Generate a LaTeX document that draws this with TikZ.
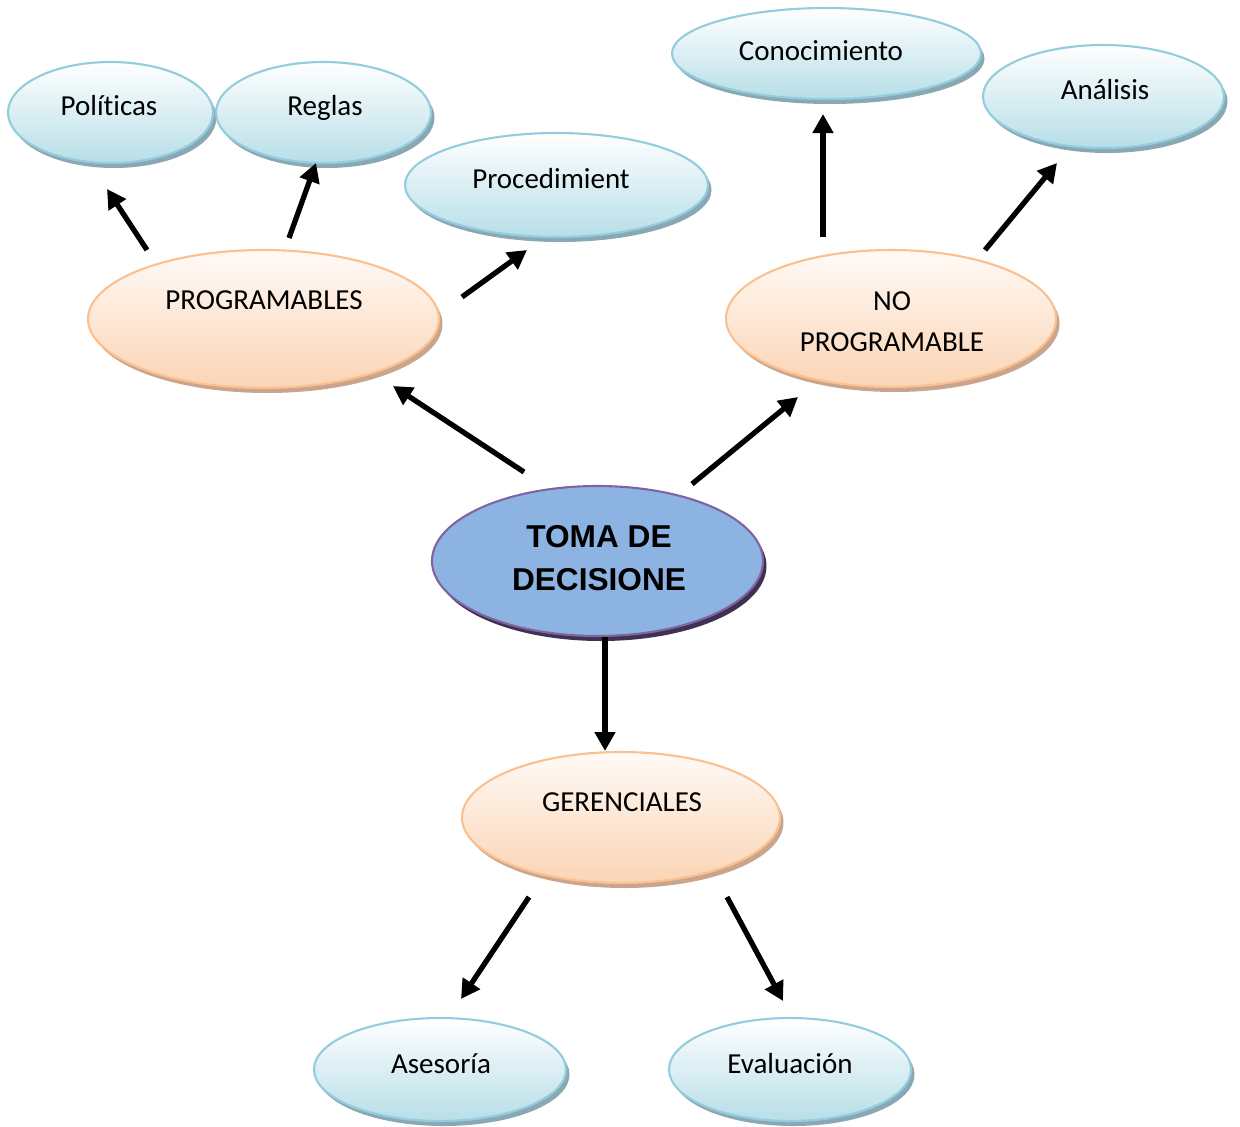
\documentclass[tikz,border=0pt]{standalone}
\usepackage{fontspec}
\setmainfont{Carlito}[Ligatures=NoCommon]
\newfontfamily\headfont{Liberation Sans}
\usetikzlibrary{shapes.geometric,shadows,arrows.meta}

\definecolor{bluebord}{HTML}{93CDDD}
\definecolor{bluebot}{HTML}{B7DEE8}
\definecolor{blueshad}{HTML}{8AA8B3}
\definecolor{orabord}{HTML}{FAC090}
\definecolor{orabot}{HTML}{FBD4B4}
\definecolor{oratop}{HTML}{FFFAF7}
\definecolor{orashad}{HTML}{C8A58C}
\definecolor{mainfill}{HTML}{8DB3E2}
\definecolor{mainbord}{HTML}{8064A2}
\definecolor{mainshad}{HTML}{3F3151}

\tikzset{
  oval/.style 2 args={ellipse, inner sep=0pt, minimum width=#1*0.02cm, minimum height=#2*0.02cm},
  leaf/.style={line width=1.2pt, draw=bluebord, top color=white, bottom color=bluebot,
    general shadow={fill=blueshad, shadow xshift=0.07cm, shadow yshift=-0.1cm}},
  branch/.style={line width=1.2pt, draw=orabord, top color=oratop, bottom color=orabot,
    general shadow={fill=orashad, shadow xshift=0.07cm, shadow yshift=-0.1cm}},
  root/.style={line width=1.2pt, draw=mainbord, fill=mainfill,
    general shadow={fill=mainshad, shadow xshift=0.07cm, shadow yshift=-0.1cm}},
  lbl/.style={font=\fontsize{16.5}{20}\selectfont, inner sep=0pt, anchor=base},
  rootlbl/.style={font=\headfont\bfseries\fontsize{18}{24.5}\selectfont, inner sep=0pt, anchor=base},
  link/.style={line width=3pt, -{Triangle[length=0.38cm,width=0.4cm]}},
}

\begin{document}
\begin{tikzpicture}[x=0.02cm, y=-0.02cm]
\useasboundingbox (0,0) rectangle (1240,1126);

% ellipses
\node[leaf, oval={205}{101}]   (pol)  at (110.5,112.5) {};
\node[leaf, oval={215}{101}]   (reg)  at (323.5,112.5) {};
\node[leaf, oval={303}{104}]   (proc) at (556.5,185) {};
\node[leaf, oval={309}{91}]    (con)  at (826.5,53.5) {};
\node[leaf, oval={241}{103}]   (ana)  at (1103.5,96.5) {};
\node[branch, oval={351}{138}] (prog) at (263.5,319) {};
\node[branch, oval={330}{137}] (nop)  at (891,318.5) {};
\node[root, oval={331}{150}]   (toma) at (597.5,561) {};
\node[branch, oval={318}{131}] (ger)  at (621,817.5) {};
\node[leaf, oval={252}{103}]   (ase)  at (440,1069.5) {};
\node[leaf, oval={242}{103}]   (eva)  at (790,1069.5) {};

% labels, placed on their baselines
\node[lbl] (tpol)  at (109,115) {Políticas};
\node[lbl] (treg)  at (325,115) {Reglas};
\node[lbl] (tproc) at (551,188) {Procedimient};
\node[lbl] (tcon)  at (821,60)  {Conocimiento};
\node[lbl] (tana)  at (1105,99) {Análisis};
\node[lbl] (tprog) at (264,309) {PROGRAMABLES};
\node[lbl] (tno1)  at (892,310) {NO};
\node[lbl] (tno2)  at (892,351) {PROGRAMABLE};
\node[rootlbl] (ttoma1) at (599,547) {TOMA DE};
\node[rootlbl] (ttoma2) at (599,590) {DECISIONE};
\node[lbl] (tger)  at (622,811) {GERENCIALES};
\node[lbl] (tase)  at (441,1073) {Asesoría};
\node[lbl] (teva)  at (790,1073) {Evaluación};

% free-standing arrow ends
\coordinate (a1s) at (147,250);  \coordinate (a1e) at (107,189);
\coordinate (a2s) at (289,238);  \coordinate (a2e) at (316,163);
\coordinate (a3s) at (462,297);  \coordinate (a3e) at (527,250);
\coordinate (a4s) at (823,237);  \coordinate (a4e) at (823,114);
\coordinate (a5s) at (985,250);  \coordinate (a5e) at (1057,163);
\coordinate (a6s) at (524,472);  \coordinate (a6e) at (393,386);
\coordinate (a7s) at (692,484);  \coordinate (a7e) at (798,397);
\coordinate (a8s) at (605,637);  \coordinate (a8e) at (605,751);
\coordinate (a9s) at (529,897);  \coordinate (a9e) at (461,999);
\coordinate (a10s) at (727,897); \coordinate (a10e) at (783,1001);

\draw[link] (a1s) -- (a1e);
\draw[link] (a2s) -- (a2e);
\draw[link] (a3s) -- (a3e);
\draw[link] (a4s) -- (a4e);
\draw[link] (a5s) -- (a5e);
\draw[link] (a6s) -- (a6e);
\draw[link] (a7s) -- (a7e);
\draw[link] (a8s) -- (a8e);
\draw[link] (a9s) -- (a9e);
\draw[link] (a10s) -- (a10e);
\end{tikzpicture}
\end{document}
